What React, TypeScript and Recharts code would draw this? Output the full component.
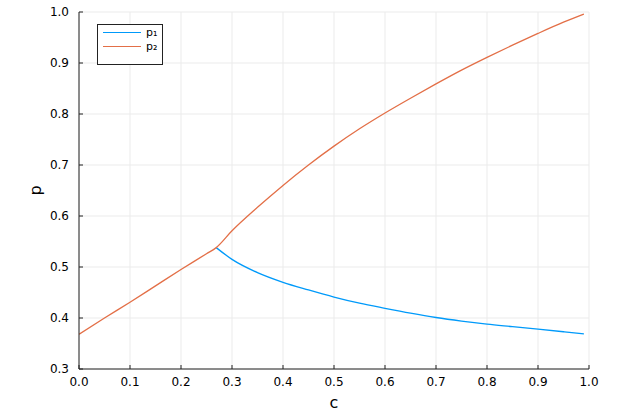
import React from "react";
import {
  LineChart,
  Line,
  XAxis,
  YAxis,
  CartesianGrid,
  Legend,
  Label,
} from "recharts";

// values
const cValues = [
  0, 0.05, 0.1, 0.15, 0.2, 0.25, 0.269, 0.3, 0.35, 0.4, 0.45, 0.5, 0.55, 0.6,
  0.65, 0.7, 0.75, 0.8, 0.85, 0.9, 0.95, 0.99,
];
// p1 only branches off after the split point (it sits under p2 before that)
const p1Values = [
  null, null, null, null, null, null, 0.538, 0.515, 0.489, 0.47, 0.455,
  0.441, 0.429, 0.419, 0.4095, 0.401, 0.394, 0.388, 0.383, 0.378, 0.373, 0.369,
];
const p2Values = [
  0.368, 0.4, 0.431, 0.463, 0.495, 0.526, 0.538, 0.571, 0.617, 0.66, 0.7,
  0.737, 0.771, 0.802, 0.831, 0.859, 0.886, 0.911, 0.935, 0.958, 0.98, 0.996,
];
const xTicks = [0, 0.1, 0.2, 0.3, 0.4, 0.5, 0.6, 0.7, 0.8, 0.9, 1.0];
const yTicks = [0.3, 0.4, 0.5, 0.6, 0.7, 0.8, 0.9, 1.0];

const seriesNames = ["p₁", "p₂"];
const BLUE = "#009AFA";
const ORANGE = "#E36F47";
const AXIS = "#222222";
const FONT = "'DejaVu Sans', sans-serif";

const data = cValues.map((c, i) => ({ c, p1: p1Values[i], p2: p2Values[i] }));

const fmt = (v: number) => v.toFixed(1);

const LegendBox = ({ payload }: any) => (
  <div
    style={{
      border: `1px solid ${AXIS}`,
      background: "#fff",
      width: 64,
      height: 38,
      boxSizing: "content-box",
      fontFamily: FONT,
      fontSize: 11,
      color: "#000",
      paddingTop: 1,
    }}
  >
    {(payload || []).map((entry: any) => (
      <div
        key={entry.value}
        style={{ display: "flex", alignItems: "center", height: 13.5, marginLeft: 5 }}
      >
        <div style={{ width: 38, height: 0, borderTop: `1.5px solid ${entry.color}` }} />
        <span style={{ marginLeft: 5, lineHeight: "13px" }}>{entry.value}</span>
      </div>
    ))}
  </div>
);

export default function App() {
  return (
    <div style={{ position: "absolute", left: 0, top: 0, background: "#fff" }}>
      <LineChart
        width={623}
        height={415}
        data={data}
        margin={{ top: 12, right: 34, bottom: 0, left: 0 }}
        style={{ fontFamily: FONT }}
      >
        <CartesianGrid stroke="#ebebeb" strokeWidth={1} />
        <XAxis
          dataKey="c"
          type="number"
          domain={[0, 1]}
          ticks={xTicks}
          tickFormatter={fmt}
          height={46}
          tickSize={-4}
          tickMargin={12}
          stroke={AXIS}
          tick={{ fill: "#000", fontSize: 12 }}
          allowDataOverflow
        >
          <Label value="c" position="insideBottom" offset={7} fill="#000" fontSize={16} />
        </XAxis>
        <YAxis
          type="number"
          domain={[0.3, 1.0]}
          ticks={yTicks}
          tickFormatter={fmt}
          width={79}
          tickSize={-4}
          tickMargin={14}
          stroke={AXIS}
          tick={{ fill: "#000", fontSize: 12 }}
          allowDataOverflow
        >
          <Label
            content={({ viewBox }: any) => (
              <text
                x={viewBox.x + 35}
                y={viewBox.y + viewBox.height / 2}
                transform={`rotate(-90, ${viewBox.x + 35}, ${viewBox.y + viewBox.height / 2})`}
                textAnchor="middle"
                dominantBaseline="central"
                fontSize={16}
                fill="#000"
              >
                p
              </text>
            )}
          />
        </YAxis>
        {/* middle/center keeps the legend from eating plot space */}
        <Legend
          layout="horizontal"
          verticalAlign="middle"
          align="center"
          content={<LegendBox />}
          wrapperStyle={{ left: 97, top: 24, width: 66, height: 40 }}
        />
        <Line
          type="monotone"
          dataKey="p1"
          name={seriesNames[0]}
          stroke={BLUE}
          strokeWidth={1.3}
          dot={false}
          isAnimationActive={false}
        />
        <Line
          type="monotone"
          dataKey="p2"
          name={seriesNames[1]}
          stroke={ORANGE}
          strokeWidth={1.3}
          dot={false}
          isAnimationActive={false}
        />
      </LineChart>
    </div>
  );
}
